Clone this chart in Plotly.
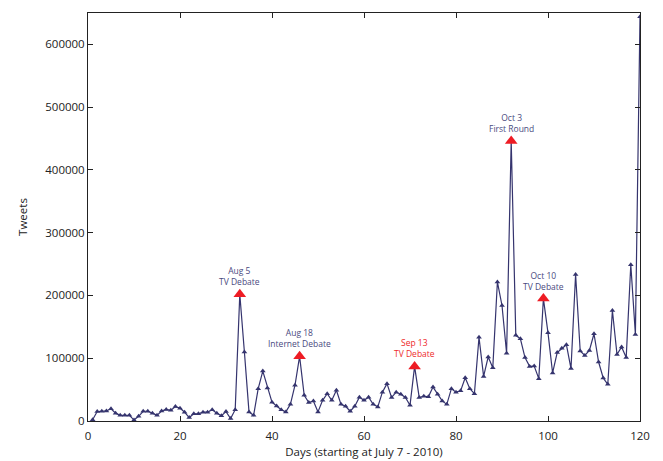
import plotly.graph_objects as go

days = list(range(1, 121))
tweets = [
    2000, 15000, 15500, 16000, 19500, 12500, 9000, 9000, 9000, 1500,
    7500, 15500, 15500, 12500, 9000, 16000, 18500, 17000, 23000, 20500,
    14000, 5500, 11500, 11500, 14000, 14000, 18000, 12500, 8500, 15000,
    4000, 18000, 202000, 110000, 14500, 9000, 51500, 79500, 52500, 30000,
    24000, 18000, 14500, 26500, 57000, 103000, 41000, 29500, 32000, 14500,
    33000, 43500, 33000, 49000, 26500, 23500, 15500, 23500, 38000, 33000,
    38000, 26500, 22500, 46000, 59500, 37500, 46000, 42500, 37500, 25000,
    87000, 37500, 39500, 38500, 54000, 42500, 32000, 26500, 51500, 46000,
    48000, 69000, 51500, 43500, 133500, 71000, 102000, 85000, 221500, 184000,
    108000, 446000, 136500, 131000, 101000, 87000, 87500, 67500, 195000, 140500,
    76500, 109000, 116000, 121500, 83500, 233500, 111500, 104500, 112500, 139000,
    94000, 68500, 58500, 176000, 106000, 118000, 101000, 249000, 138000, 644000,
]

event_days = [33, 46, 71, 92, 99]
event_labels = ["Aug 5<br>TV Debate", "Aug 18<br>Internet Debate", "Sep 13<br>TV Debate",
                "Oct 3<br>First Round", "Oct 10<br>TV Debate"]
event_colors = ["#4a4a80", "#4a4a80", "#ee2a2a", "#4a4a80", "#4a4a80"]
event_values = [tweets[d - 1] for d in event_days]

x_ticks = [0, 20, 40, 60, 80, 100, 120]
y_ticks = [0, 100000, 200000, 300000, 400000, 500000, 600000]

navy = "#35346e"
font_family = "Open Sans, Noto Sans, sans-serif"

fig = go.Figure()
fig.add_trace(go.Scatter(
    x=days, y=tweets, mode="lines+markers",
    line=dict(color=navy, width=1.2),
    marker=dict(symbol="triangle-up", size=5, color=navy),
    showlegend=False, hoverinfo="skip",
))
fig.add_trace(go.Scatter(
    x=event_days, y=event_values, mode="markers",
    marker=dict(symbol="triangle-up", size=11, color="#ee1c24"),
    showlegend=False, hoverinfo="skip",
))

for d, v, t, c in zip(event_days, event_values, event_labels, event_colors):
    fig.add_annotation(x=d, y=v, text=t, showarrow=False, yanchor="bottom",
                       yshift=5, font=dict(size=8.5, color=c, family=font_family),
                       align="center")

axis_common = dict(
    showline=True, linecolor="#222222", linewidth=1, mirror="ticks",
    ticks="inside", ticklen=5, tickcolor="#222222", showgrid=False, zeroline=False,
    tickfont=dict(size=11.5, color="#222222", family=font_family),
)

fig.update_xaxes(range=[0, 120], tickvals=x_ticks, ticktext=[str(v) for v in x_ticks],
                 ticklabelstandoff=4,
                 title=dict(text="Days (starting at July 7 - 2010)", standoff=6,
                            font=dict(size=11.5, color="#222222", family=font_family)),
                 **axis_common)
fig.update_yaxes(range=[0, 650000], tickvals=y_ticks, ticktext=[str(v) for v in y_ticks],
                 title=dict(text="Tweets", standoff=15,
                            font=dict(size=11.5, color="#222222", family=font_family)),
                 **axis_common)

fig.update_layout(
    width=663, height=461,
    margin=dict(l=88, r=23, t=13, b=40, autoexpand=False),
    plot_bgcolor="white", paper_bgcolor="white",
)

fig.write_html("out.html", post_script="document.body.style.margin='0';",
               config={"displayModeBar": False})
